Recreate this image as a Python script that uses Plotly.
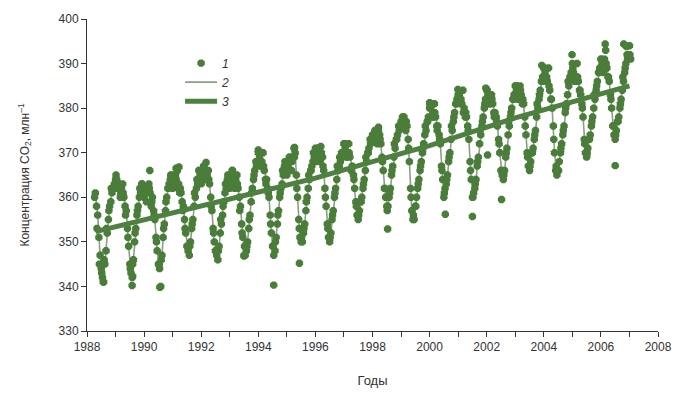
import plotly.graph_objects as go

# ---- data ----
first_year, first_month = 1988, 4          # first monthly mean: April 1988

monthly_mean = [
    361, 356, 347, 342, 345, 352, 358, 361, 363,                      # 1988 Apr-Dec
    364, 363, 362, 360, 357, 349, 343, 346, 353, 358, 361, 362,        # 1989
    362, 362, 361, 360, 355, 348, 344, 347, 354, 360, 363, 364,        # 1990
    365, 364, 363, 361, 358, 352, 348, 350, 355, 360, 363, 365,        # 1991
    365, 366, 365, 363, 357, 350, 347, 349, 354, 359, 362, 364,        # 1992
    364, 365, 364, 362, 358, 351, 347, 350, 356, 362, 366, 368,        # 1993
    369, 368, 366, 364, 360, 352, 347, 351, 357, 362, 365, 367,        # 1994
    367, 368, 369, 370, 360, 351, 350, 354, 360, 364, 367, 369,        # 1995
    369, 370, 370, 366, 358, 351, 352, 357, 362, 366, 368, 370,        # 1996
    371, 370, 369, 367, 362, 356, 357, 360, 364, 368, 371, 373,        # 1997
    373, 374, 375, 372, 366, 360, 358, 362, 367, 371, 374, 376,        # 1998
    377, 377, 376, 368, 357, 355, 360, 364, 368, 372, 375, 378,        # 1999
    380, 379, 378, 376, 372, 364, 362, 365, 370, 375, 379, 382,        # 2000
    383, 381, 380, 378, 373, 364, 361, 364, 369, 374, 378, 382,        # 2001
    383, 382, 381, 379, 376, 370, 365, 366, 371, 376, 380, 383,        # 2002
    384, 384, 383, 381, 374, 367, 368, 371, 375, 380, 384, 387,        # 2003
    388, 386, 384, 380, 370, 365, 368, 372, 376, 381, 385, 388,        # 2004
    388, 387, 386, 383, 378, 370, 371, 374, 378, 382, 386, 389,        # 2005
    390, 391, 389, 386, 380, 374, 375, 378, 382, 386, 390, 392,        # 2006
    391,                                                               # 2007 Jan
]

# individual samples taken at the end of each month
samples_end = [
    358, 351, 344, 341, 348, 355, 359, 362, 364,                       # 1988
    362, 360, 363, 358, 353, 345, 342, 350, 356, 360, 363, 360,        # 1989
    359, 363, 358, 357, 351, 345, 340, 351, 357, 362, 364, 362,        # 1990
    363, 366, 361, 359, 355, 349, 347, 353, 358, 362, 366, 363,        # 1991
    367, 364, 366, 360, 353, 348, 346, 352, 356, 361, 364, 362,        # 1992
    366, 362, 365, 360, 354, 347, 348, 353, 359, 364, 368, 370,        # 1993
    367, 370, 364, 362, 356, 349, 348, 354, 360, 363, 367, 365,        # 1994
    369, 366, 371, 365, 355, 350, 352, 357, 362, 366, 368, 371,        # 1995
    371, 368, 369, 362, 354, 350, 355, 360, 364, 367, 370, 372,        # 1996
    369, 372, 366, 365, 359, 355, 359, 362, 366, 370, 373, 374,        # 1997
    375, 372, 374, 369, 362, 358, 360, 365, 369, 373, 376, 377,        # 1998
    378, 375, 373, 362, 355, 358, 362, 366, 370, 374, 377, 380,        # 1999
    378, 381, 376, 374, 367, 360, 363, 368, 373, 377, 381, 383,        # 2000
    381, 384, 378, 376, 368, 360, 362, 367, 372, 376, 380, 384,        # 2001
    381, 383, 379, 378, 373, 366, 364, 369, 374, 378, 382, 385,        # 2002
    382, 385, 381, 378, 370, 366, 370, 373, 378, 382, 386, 389,        # 2003
    386, 389, 382, 376, 366, 366, 370, 374, 379, 383, 387, 390,        # 2004
    386, 390, 384, 381, 373, 369, 373, 376, 380, 384, 388, 391,        # 2005
    388, 393, 387, 383, 376, 373, 377, 380, 384, 388, 392, 394,        # 2006
]

# individual samples taken early in each month
samples_early = [
    360, 353, 345, 343, 346, 353, 357, 362, 362,                       # 1988
    365, 362, 361, 361, 356, 351, 344, 345, 352, 357, 362, 363,        # 1989
    361, 361, 362, 359, 356, 350, 345, 346, 353, 359, 362, 365,        # 1990
    364, 365, 362, 362, 357, 353, 349, 349, 354, 361, 364, 366,        # 1991
    364, 367, 364, 364, 358, 352, 348, 348, 355, 358, 363, 365,        # 1992
    363, 366, 363, 363, 357, 352, 349, 349, 355, 361, 365, 367,        # 1993
    370, 367, 367, 363, 361, 354, 349, 350, 356, 361, 366, 368,        # 1994
    366, 369, 368, 369, 362, 353, 351, 353, 359, 365, 366, 370,        # 1995
    368, 371, 369, 367, 360, 353, 351, 356, 361, 367, 369, 369,        # 1996
    372, 369, 370, 366, 364, 358, 356, 359, 363, 369, 370, 372,        # 1997
    374, 373, 374, 373, 368, 362, 357, 361, 366, 372, 373, 375,        # 1998
    376, 378, 377, 371, 360, 356, 358, 363, 367, 371, 376, 377,        # 1999
    381, 378, 379, 375, 373, 366, 361, 364, 369, 376, 378, 381,        # 2000
    382, 382, 379, 379, 375, 366, 360, 363, 368, 375, 377, 381,        # 2001
    384, 381, 382, 378, 377, 372, 366, 365, 370, 377, 379, 382,        # 2002
    385, 383, 384, 382, 376, 369, 367, 370, 374, 381, 383, 386,        # 2003
    389, 387, 385, 382, 373, 367, 366, 371, 375, 380, 386, 387,        # 2004
    389, 386, 387, 384, 380, 372, 370, 373, 377, 383, 385, 388,        # 2005
    391, 390, 390, 387, 382, 376, 374, 377, 381, 387, 389, 391,        # 2006
    392,                                                               # 2007
]

# isolated samples (decimal year, ppm)
extra_dates = [1988.57, 1989.58, 1989.60, 1990.20, 1990.53, 1990.55, 1991.12, 1991.22,
               1992.17, 1993.50, 1994.00, 1994.54, 1995.27, 1995.44, 1996.19, 1997.06,
               1998.21, 1998.53, 1999.05, 1999.12, 2000.00, 2000.55, 2000.99, 2001.50,
               2001.97, 2002.03, 2002.52, 2003.06, 2003.93, 2004.99, 2005.50, 2006.15,
               2006.50, 2006.80, 2006.90]
extra_values = [341.0, 340.2, 342.3, 366.0, 345.0, 339.8, 366.5, 366.8,
                367.8, 346.8, 370.6, 340.3, 371.2, 345.2, 371.4, 371.9,
                375.7, 352.9, 378.0, 376.5, 381.2, 356.2, 384.2, 355.7,
                384.5, 369.5, 359.5, 385.0, 389.6, 392.0, 369.5, 394.4,
                367.1, 394.4, 393.8]

trend_years = [1988.3, 1990, 1993, 1996, 1998, 2000, 2003, 2005, 2007]
trend_values = [352.3, 355.0, 359.8, 364.3, 368.0, 371.6, 377.8, 381.5, 385.0]

legend_labels = ["1", "2", "3"]

# ---- positions in decimal years ----
month_x = [first_year + (first_month - 1 + i + 0.5) / 12 for i in range(len(monthly_mean))]
end_x = [first_year + (first_month + i) / 12 for i in range(len(samples_end))]
early_x = [first_year + (first_month - 1 + i + 0.2) / 12 for i in range(len(samples_early))]

DOT = "#4a7d3a"
THIN = "#8d9e88"
THICK = "#4e8040"

fig = go.Figure()

fig.add_trace(go.Scatter(
    x=month_x, y=monthly_mean, mode="lines", name="<i>" + legend_labels[1] + "</i>",
    line=dict(color=THIN, width=1.6), legendrank=2))

fig.add_trace(go.Scatter(
    x=month_x + end_x + early_x + extra_dates,
    y=monthly_mean + samples_end + samples_early + extra_values,
    mode="markers", name="<i>" + legend_labels[0] + "</i>",
    marker=dict(symbol="octagon", size=8, color=DOT, line=dict(width=0)),
    legendrank=1))

fig.add_trace(go.Scatter(
    x=trend_years, y=trend_values, mode="lines", name="<i>" + legend_labels[2] + "</i>",
    line=dict(color=THICK, width=5), legendrank=3))

font = dict(family="Liberation Sans, Arial, sans-serif", size=12, color="#333333")

fig.update_layout(
    width=684, height=398,
    margin=dict(l=87, r=20, t=18, b=66),
    paper_bgcolor="white", plot_bgcolor="white",
    font=font,
    showlegend=True,
    legend=dict(x=0.163, y=0.905, xanchor="left", yanchor="top",
                bgcolor="rgba(0,0,0,0)", font=dict(size=12, color="#333333", family=font["family"]),
                itemwidth=32, tracegroupgap=0, traceorder="normal"),
    xaxis=dict(range=[1988, 2008], dtick=2, tick0=1988, showgrid=False, zeroline=False,
               showline=True, linecolor="#333333", linewidth=1,
               ticks="outside", ticklen=5, tickcolor="#333333",
               minor=dict(dtick=1, ticks="outside", ticklen=5, tickcolor="#333333", showgrid=False),
               title=dict(text="Годы", standoff=22, font=dict(size=13))),
    yaxis=dict(range=[330, 400], dtick=10, showgrid=False, zeroline=False,
               showline=True, linecolor="#333333", linewidth=1,
               ticks="outside", ticklen=5, tickcolor="#333333",
               title=dict(text="Концентрация CO<sub>2</sub>, млн<sup>–1</sup>", standoff=26,
                          font=dict(size=12))),
)

fig.write_html("out.html", config={"displayModeBar": False},
               post_script="document.body.style.margin='0';")
